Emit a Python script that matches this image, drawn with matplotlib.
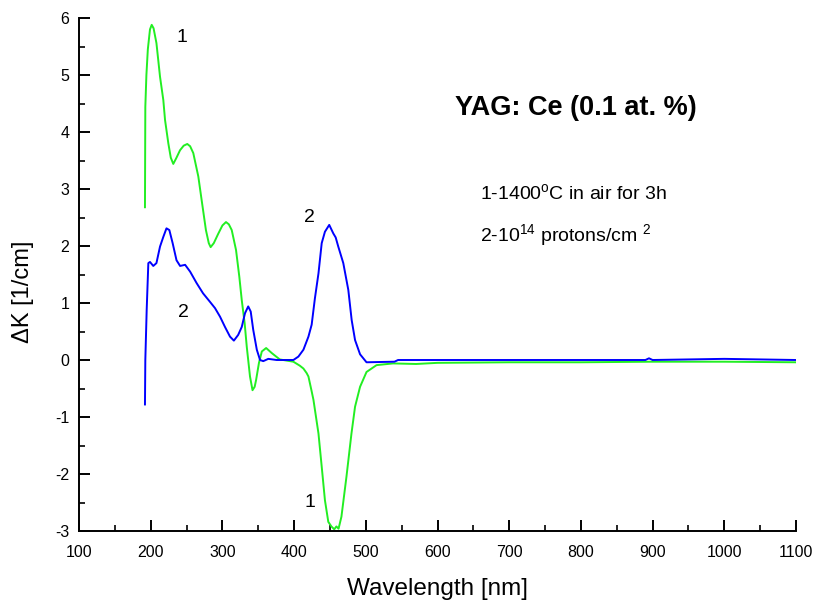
import matplotlib
matplotlib.use("Agg")
import matplotlib.pyplot as plt
from matplotlib.ticker import MultipleLocator

plt.rcParams['font.family'] = ['Liberation Sans', 'DejaVu Sans']
plt.rcParams['mathtext.fontset'] = 'custom'
plt.rcParams['mathtext.rm'] = 'Liberation Sans'
plt.rcParams['mathtext.it'] = 'Liberation Sans'
plt.rcParams['axes.unicode_minus'] = False

# Curve 1: 1400 C in air for 3h (green)
wl1 = [192, 192.5, 194, 196, 199, 201.4, 204, 208, 213, 217.6, 220, 224.6, 228, 231.5,
       236, 240.9, 246, 251, 255, 259.4, 266.4, 271, 277, 281, 283.6, 288, 294, 300,
       305, 309, 313, 319, 323.6, 327, 331, 334, 338.5, 342, 345, 347, 351, 355, 361,
       369, 380, 399, 408, 413, 417.5, 420, 424.5, 427, 434, 438.5, 443, 447.7, 452,
       456, 459, 462, 466, 473, 480, 485, 492, 501, 515, 538, 570, 600, 700, 800, 900,
       1000, 1100]
dk1 = [2.68, 4.44, 5.0, 5.45, 5.8, 5.88, 5.82, 5.56, 4.97, 4.56, 4.21, 3.80, 3.55, 3.44,
       3.55, 3.68, 3.76, 3.79, 3.75, 3.63, 3.22, 2.81, 2.28, 2.05, 1.98, 2.05, 2.21, 2.36,
       2.42, 2.38, 2.28, 1.93, 1.46, 1.05, 0.65, 0.23, -0.29, -0.53, -0.47, -0.35, -0.05,
       0.15, 0.21, 0.12, 0.01, -0.03, -0.10, -0.15, -0.23, -0.29, -0.55, -0.70, -1.29,
       -1.87, -2.46, -2.84, -2.92, -2.97, -2.92, -2.96, -2.75, -2.05, -1.29, -0.82, -0.47,
       -0.21, -0.09, -0.06, -0.07, -0.05, -0.04, -0.04, -0.03, -0.03, -0.04]

# Curve 2: 10^14 protons/cm^2 (blue)
wl2 = [192, 192.5, 194.4, 196.7, 199, 203.6, 208, 213, 217.6, 222, 226, 230.6, 236, 241,
       248, 255, 264, 273, 282.7, 289.7, 296.7, 303.6, 310.6, 316, 322, 327, 331.5, 336,
       339.5, 343, 348, 352.5, 357, 364, 375.7, 399, 406, 413, 420, 424.5, 429, 434,
       438.5, 443, 449, 454.7, 458, 461.6, 468.6, 475.6, 480.3, 485, 492, 501, 540, 545,
       700, 890, 895, 900, 1000, 1100]
dk2 = [-0.78, 0.0, 0.88, 1.70, 1.72, 1.65, 1.70, 1.99, 2.16, 2.31, 2.28, 2.05, 1.75, 1.65,
       1.67, 1.55, 1.35, 1.17, 1.02, 0.91, 0.76, 0.58, 0.41, 0.34, 0.44, 0.58, 0.82, 0.94,
       0.85, 0.53, 0.18, 0.0, -0.02, 0.02, 0.0, 0.0, 0.06, 0.18, 0.41, 0.62, 1.08, 1.52,
       2.05, 2.25, 2.37, 2.22, 2.15, 1.99, 1.70, 1.23, 0.70, 0.35, 0.10, -0.04, -0.03, 0.0,
       0.0, 0.0, 0.03, 0.0, 0.02, 0.0]

xticks = [100, 200, 300, 400, 500, 600, 700, 800, 900, 1000, 1100]
yticks = [-3, -2, -1, 0, 1, 2, 3, 4, 5, 6]

fig = plt.figure(figsize=(8.14, 6.0), dpi=100)
ax = fig.add_axes([79/814, 1-531/600, (796-79)/814, (531-18)/600])

ax.plot(wl1, dk1, color='#22ee22', lw=1.4)
ax.plot(wl2, dk2, color='#0000ff', lw=1.4)

ax.set_xlim(100, 1100)
ax.set_ylim(-3, 6)
ax.set_xticks(xticks)
ax.set_yticks(yticks)
ax.xaxis.set_minor_locator(MultipleLocator(50))
ax.yaxis.set_minor_locator(MultipleLocator(0.5))
for s in ['top', 'right']:
    ax.spines[s].set_visible(False)
for s in ['left', 'bottom']:
    ax.spines[s].set_linewidth(1.4)
ax.tick_params(which='major', direction='in', length=8, width=1.4, labelsize=11.5)
ax.tick_params(which='minor', direction='in', length=4, width=1.2)
ax.tick_params(axis='x', pad=10)
ax.tick_params(axis='y', pad=7)

ax.set_xlabel('Wavelength [nm]', fontsize=17.5, labelpad=13)
ax.set_ylabel('ΔK [1/cm]', fontsize=17)
ax.yaxis.set_label_coords(-0.063, 0.466)

ax.text(624, 4.42, 'YAG: Ce (0.1 at. %)', fontsize=19.5, fontweight='bold', ha='left', va='center')
ax.text(659, 2.93, '1-1400$^{\\mathrm{o}}$C in air for 3h', fontsize=14, ha='left', va='center')
ax.text(659, 2.19, '2-10$^{14}$ protons/cm $^{2}$', fontsize=14, ha='left', va='center')

ax.text(243, 5.65, '1', fontsize=14, ha='center', va='center')
ax.text(245, 0.84, '2', fontsize=14, ha='center', va='center')
ax.text(422, 2.5, '2', fontsize=14, ha='center', va='center')
ax.text(422, -2.5, '1', fontsize=14, ha='center', va='center')

fig.savefig('out.png', dpi=100)
